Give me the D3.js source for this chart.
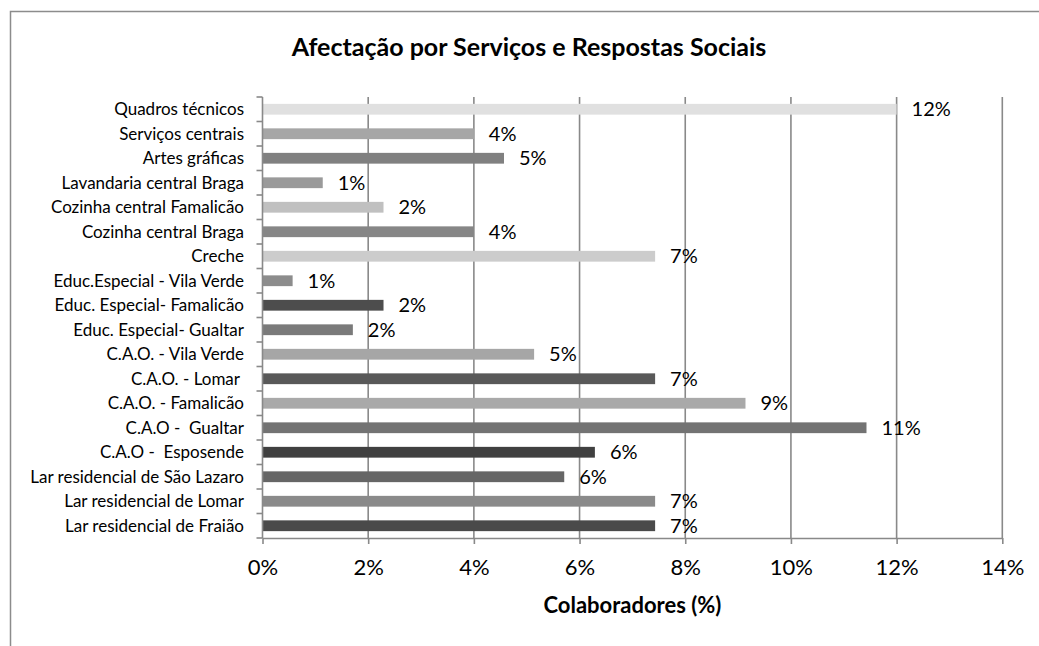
<!DOCTYPE html>
<html>
<head>
<meta charset="utf-8">
<script src="https://cdn.jsdelivr.net/npm/d3@7"></script>
<style>
  html, body { margin: 0; padding: 0; background: #fff; }
  svg { display: block; }
  text { font-family: Lato, "Open Sans", sans-serif; fill: #000; }
</style>
</head>
<body>
<svg id="chart" width="1039" height="646"></svg>
<script>
// Staff allocation by service (share of collaborators, %)
const categories = [
  "Quadros técnicos",
  "Serviços centrais",
  "Artes gráficas",
  "Lavandaria central Braga",
  "Cozinha central Famalicão",
  "Cozinha central Braga",
  "Creche",
  "Educ.Especial - Vila Verde",
  "Educ. Especial- Famalicão",
  "Educ. Especial- Gualtar",
  "C.A.O. - Vila Verde",
  "C.A.O. - Lomar ",
  "C.A.O. - Famalicão",
  "C.A.O -  Gualtar",
  "C.A.O -  Esposende",
  "Lar residencial de São Lazaro",
  "Lar residencial de Lomar",
  "Lar residencial de Fraião"
];
const values = [12.00, 4.00, 4.57, 1.14, 2.29, 4.00, 7.43, 0.57, 2.29, 1.71, 5.14, 7.43, 9.14, 11.43, 6.29, 5.71, 7.43, 7.43];
const barColors = [
  "#e0e0e0", "#a6a6a6", "#808080", "#9a9a9a", "#c0c0c0", "#868686",
  "#cccccc", "#8c8c8c", "#4d4d4d", "#7a7a7a", "#a6a6a6", "#595959",
  "#a9a9a9", "#737373", "#404040", "#666666", "#8a8a8a", "#4a4a4a"
];
const xTicks = [0, 2, 4, 6, 8, 10, 12, 14];
const titleText = "Afectação por Serviços e Respostas Sociais";
const xTitleText = "Colaboradores (%)";

const svg = d3.select("#chart");
const plot = { left: 262.5, right: 1002.3, top: 97, bottom: 538 };
const gridColor = "#898989";

// outer chart frame
svg.append("rect")
  .attr("x", 10.5).attr("y", 11.5)
  .attr("width", 1100).attr("height", 1000)
  .attr("fill", "none").attr("stroke", "#8c8c8c").attr("stroke-width", 1.5);

const x = d3.scaleLinear().domain([0, 14]).range([plot.left, plot.right]);
const y = d3.scaleBand().domain(categories)
  .range([plot.top, plot.bottom]).paddingInner(0.56).paddingOuter(0.28);

// vertical gridlines
svg.append("g")
  .selectAll("line")
  .data(xTicks.filter(d => d > 0))
  .join("line")
  .attr("x1", d => x(d)).attr("x2", d => x(d))
  .attr("y1", plot.top).attr("y2", plot.bottom)
  .attr("stroke", gridColor).attr("stroke-width", 1.6);

// bars
svg.append("g")
  .selectAll("rect")
  .data(values)
  .join("rect")
  .attr("x", x(0))
  .attr("y", (d, i) => y(categories[i]))
  .attr("width", d => x(d) - x(0))
  .attr("height", y.bandwidth())
  .attr("fill", (d, i) => barColors[i]);

// value labels
svg.append("g")
  .selectAll("text")
  .data(values)
  .join("text")
  .attr("x", d => x(d) + 15)
  .attr("y", (d, i) => y(categories[i]) + y.bandwidth() / 2)
  .attr("dy", "0.36em")
  .style("font-size", "20px")
  .text(d => d3.format(".0f")(d) + "%");

// x axis
const xAxis = d3.axisBottom(x)
  .tickValues(xTicks)
  .tickFormat(d => d + "%")
  .tickSizeInner(6).tickSizeOuter(0).tickPadding(15);
const gx = svg.append("g")
  .attr("transform", `translate(0,${plot.bottom})`)
  .call(xAxis);
gx.select(".domain").attr("stroke", gridColor).attr("stroke-width", 1.6);
gx.selectAll(".tick line").attr("stroke", gridColor).attr("stroke-width", 1.6);
gx.selectAll(".tick text")
  .style("font-family", "Lato, sans-serif")
  .style("font-size", "22px").attr("fill", "#000");

// y axis with ticks on band boundaries
const gy = svg.append("g");
gy.append("line")
  .attr("x1", plot.left).attr("x2", plot.left)
  .attr("y1", plot.top).attr("y2", plot.bottom)
  .attr("stroke", gridColor).attr("stroke-width", 1.6);
const boundaries = categories.map(c => y(c) - y.step() * y.paddingInner() / 2)
  .concat([plot.bottom]);
gy.selectAll("line.tick")
  .data(boundaries)
  .join("line")
  .attr("class", "tick")
  .attr("x1", plot.left - 6).attr("x2", plot.left)
  .attr("y1", d => d).attr("y2", d => d)
  .attr("stroke", gridColor).attr("stroke-width", 1.6);
gy.selectAll("text")
  .data(categories)
  .join("text")
  .attr("x", 244)
  .attr("y", d => y(d) + y.bandwidth() / 2)
  .attr("dy", "0.36em")
  .attr("text-anchor", "end")
  .style("font-size", "17px")
  .style("white-space", "pre")
  .text(d => d);

// titles
svg.append("text")
  .attr("x", 529).attr("y", 56)
  .attr("text-anchor", "middle")
  .style("font-size", "25px").style("font-weight", "bold")
  .text(titleText);
svg.append("text")
  .attr("x", (plot.left + plot.right) / 2).attr("y", 613)
  .attr("text-anchor", "middle")
  .style("font-size", "22px").style("font-weight", "bold")
  .text(xTitleText);
</script>
</body>
</html>
